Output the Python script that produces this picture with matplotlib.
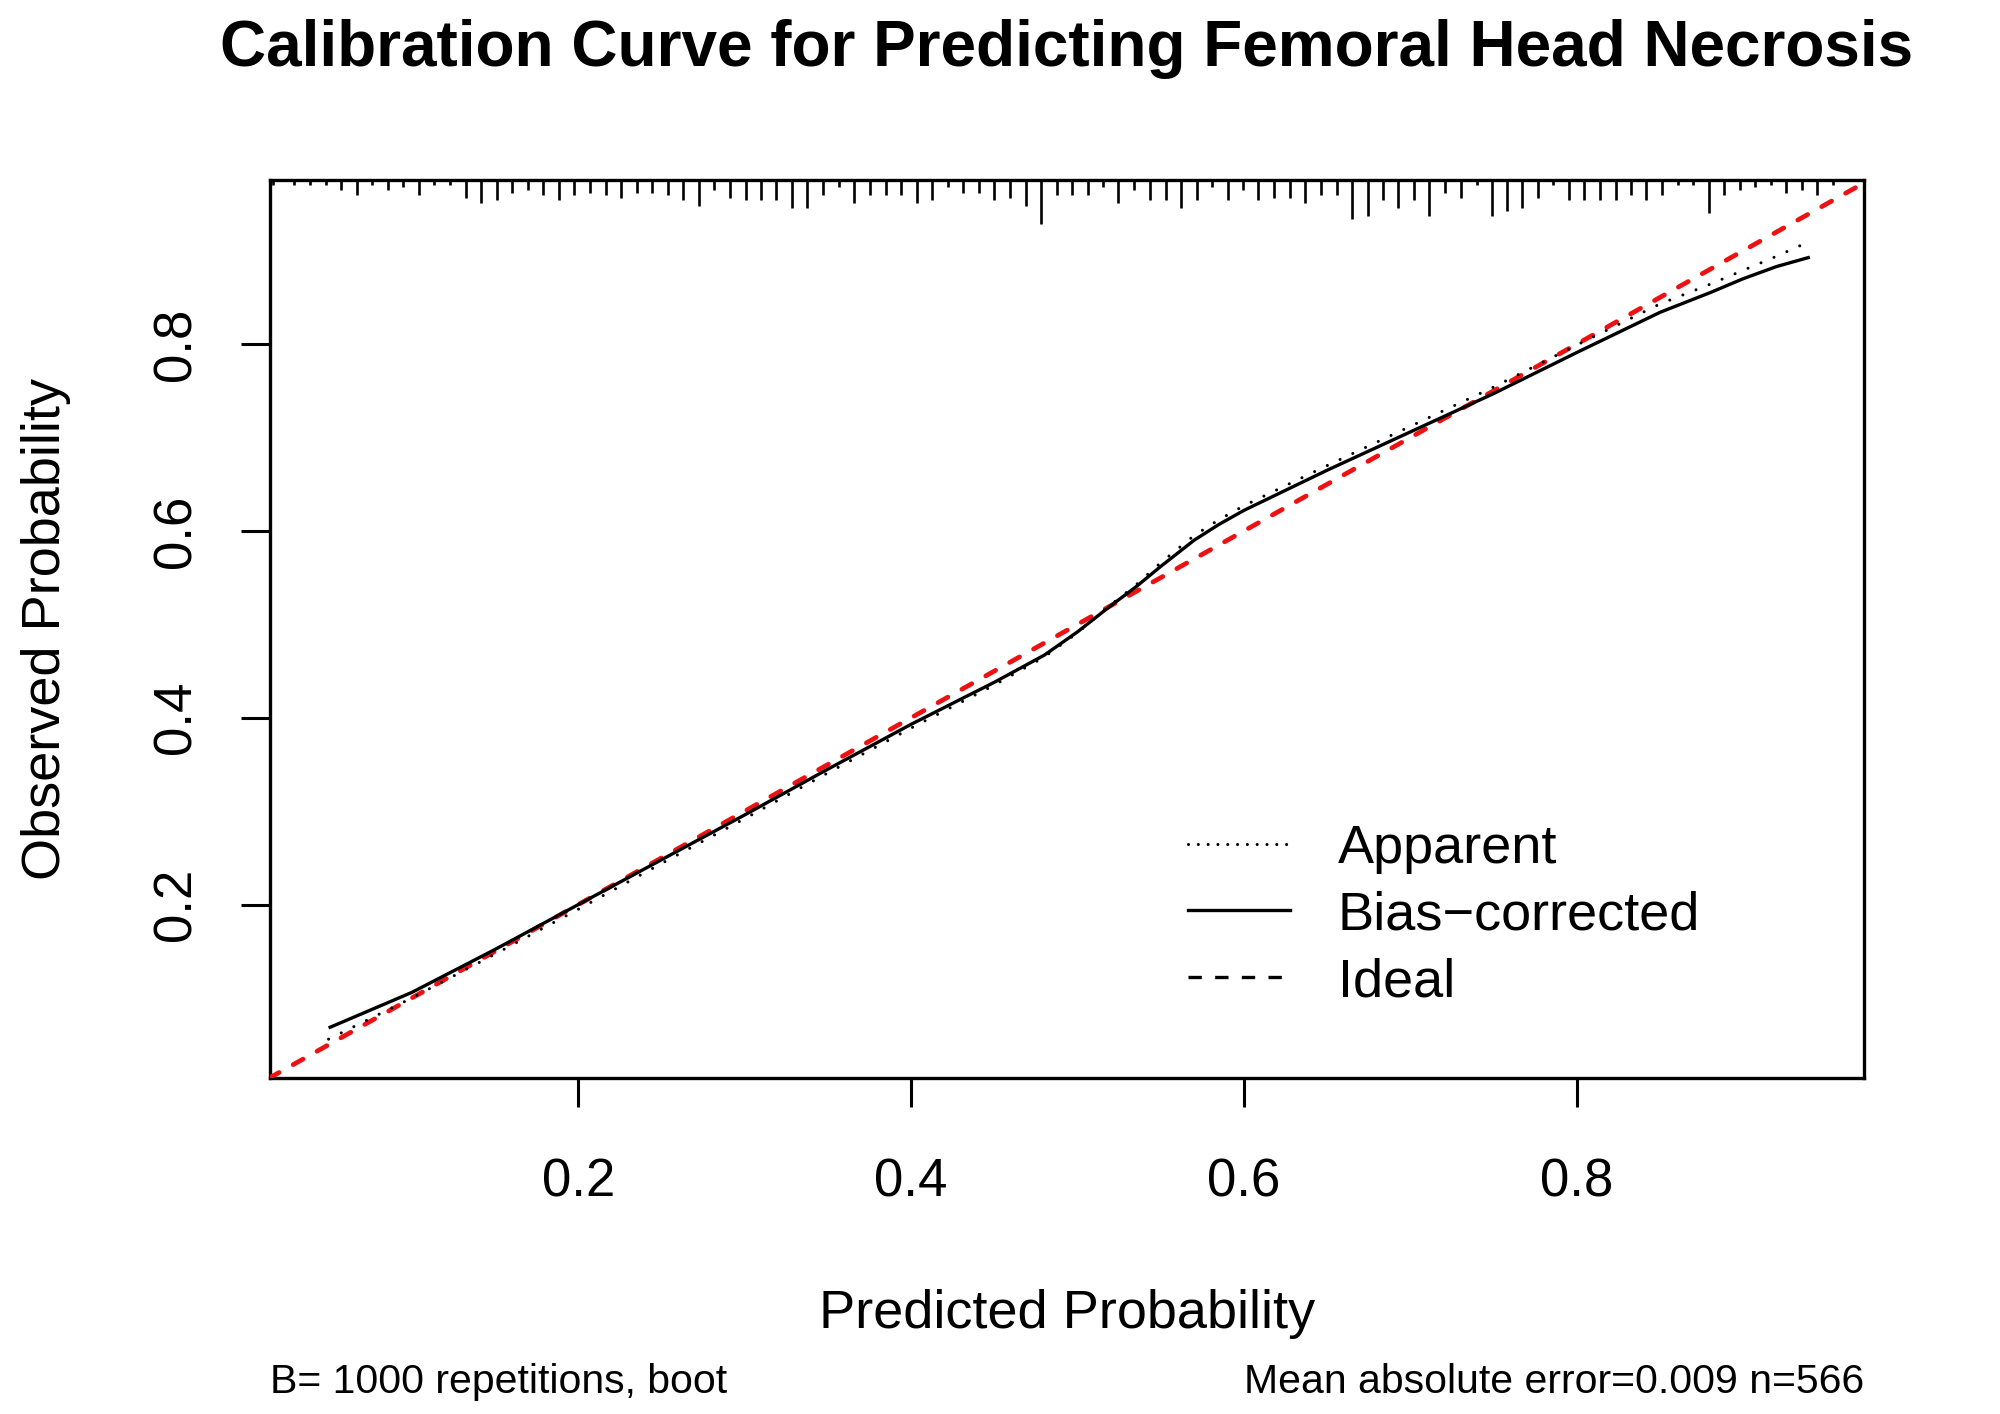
import matplotlib
matplotlib.use("Agg")
import matplotlib.pyplot as plt
from matplotlib.lines import Line2D

plt.rcParams['font.family'] = ['Liberation Sans', 'DejaVu Sans']

# ---------------- text ----------------
title = "Calibration Curve for Predicting Femoral Head Necrosis"
xlabel = "Predicted Probability"
ylabel = "Observed Probability"
sub_left = "B= 1000 repetitions, boot"
sub_right = "Mean absolute error=0.009 n=566"
legend_labels = ["Apparent", "Bias\u2212corrected", "Ideal"]

# ---------------- data ----------------
pred = [0.05, 0.10, 0.15, 0.20, 0.25, 0.30, 0.35, 0.40, 0.45, 0.48, 0.50, 0.52,
        0.535, 0.55, 0.57, 0.585, 0.60, 0.65, 0.70, 0.75, 0.80, 0.85, 0.88, 0.90,
        0.92, 0.94]
bias_corrected = [0.068, 0.106, 0.152, 0.200, 0.248, 0.296, 0.345, 0.393, 0.438,
                  0.467, 0.492, 0.520, 0.540, 0.562, 0.590, 0.607, 0.622, 0.665,
                  0.706, 0.747, 0.791, 0.834, 0.855, 0.870, 0.883, 0.893]
apparent = [0.056, 0.100, 0.147, 0.195, 0.244, 0.292, 0.341, 0.389, 0.435,
            0.465, 0.491, 0.521, 0.542, 0.566, 0.595, 0.612, 0.627, 0.670,
            0.712, 0.754, 0.799, 0.843, 0.864, 0.879, 0.894, 0.910]
ideal_x = [0.0, 1.0]
ideal_y = [0.0, 1.0]

x_range = (0.0148, 0.9725)
y_range = (0.0144, 0.9756)
tick_values = [0.2, 0.4, 0.6, 0.8]
tick_labels = ["0.2", "0.4", "0.6", "0.8"]

# distribution of predicted probabilities (rug at top): position and frequency
rug_x = [0.0168, 0.0294, 0.0388, 0.0483, 0.0574, 0.0669, 0.0763, 0.0855, 0.0949, 0.1044,
         0.1135, 0.1230, 0.1323, 0.1416, 0.1510, 0.1603, 0.1696, 0.1790, 0.1884, 0.1976,
         0.2071, 0.2165, 0.2257, 0.2351, 0.2445, 0.2538, 0.2631, 0.2725, 0.2818, 0.2911,
         0.3006, 0.3097, 0.3191, 0.3285, 0.3377, 0.3471, 0.3566, 0.3658, 0.3752, 0.3847,
         0.3939, 0.4033, 0.4124, 0.4219, 0.4314, 0.4408, 0.4500, 0.4594, 0.4688, 0.4780,
         0.4875, 0.4968, 0.5061, 0.5154, 0.5244, 0.5340, 0.5435, 0.5529, 0.5621, 0.5716,
         0.5809, 0.5902, 0.5995, 0.6086, 0.6182, 0.6277, 0.6366, 0.6463, 0.6557, 0.6647,
         0.6743, 0.6833, 0.6926, 0.7021, 0.7110, 0.7207, 0.7302, 0.7397, 0.7487, 0.7583,
         0.7673, 0.7769, 0.7858, 0.7952, 0.8044, 0.8138, 0.8232, 0.8324, 0.8418, 0.8511,
         0.8608, 0.8698, 0.8792, 0.8883, 0.8978, 0.9072, 0.9164, 0.9259, 0.9352, 0.9445,
         0.9539]
rug_count = [1, 1, 1, 1, 3, 5, 1, 3, 2, 5, 1, 1, 6, 8, 7, 4, 3, 5, 7, 5,
             4, 5, 6, 4, 4, 5, 7, 9, 3, 6, 7, 7, 7, 10, 10, 5, 2, 8, 5, 5,
             5, 8, 7, 2, 4, 4, 7, 6, 9, 16, 5, 5, 5, 2, 8, 3, 7, 7, 10, 7,
             2, 7, 3, 7, 6, 6, 8, 5, 5, 14, 13, 7, 10, 7, 13, 4, 6, 1, 13, 11,
             10, 6, 1, 7, 7, 7, 7, 5, 7, 5, 1, 1, 12, 5, 3, 2, 1, 4, 3, 5,
             1]

# ---------------- figure ----------------
W, H = 2000, 1414
fig = plt.figure(figsize=(W / 100, H / 100), dpi=100)
ax_left, ax_right, ax_top, ax_bottom = 270, 1864, 180, 1078
ax = fig.add_axes([ax_left / W, 1 - ax_bottom / H,
                   (ax_right - ax_left) / W, (ax_bottom - ax_top) / H])
ax_h_px = ax_bottom - ax_top

ax.set_xlim(*x_range)
ax.set_ylim(*y_range)

# ideal line (red dashed)
ax.plot(ideal_x, ideal_y, color='#ee1111', lw=3.4, dashes=(2.4, 3.4),
        dash_capstyle='round', zorder=3)
# bias corrected
ax.plot(pred, bias_corrected, color='black', lw=2.4, solid_capstyle='butt',
        solid_joinstyle='round', zorder=4)
# apparent
ax.plot(pred, apparent, color='black', lw=2.2, dashes=(0.01, 4.6),
        dash_capstyle='round', zorder=4)

# rug at top
rug_len = [(2.2 + 2.6 * c) / ax_h_px for c in rug_count]
ax.vlines(rug_x, [1 - l for l in rug_len], 1.0, transform=ax.get_xaxis_transform(),
          color='black', lw=1.9, capstyle='butt', zorder=5)

# frame and ticks
for s in ax.spines.values():
    s.set_linewidth(2.4)
ax.set_xticks(tick_values)
ax.set_xticklabels(tick_labels)
ax.set_yticks(tick_values)
ax.set_yticklabels(tick_labels)
ax.tick_params(axis='both', direction='out', length=21, width=2.2, labelsize=38)
ax.tick_params(axis='x', pad=36)
ax.tick_params(axis='y', pad=28, labelrotation=90)
for lab in ax.get_yticklabels():
    lab.set_va('center')

# legend (drawn manually to match layout)
leg_x0, leg_x1, leg_tx = 0.576, 0.640, 0.670
leg_y = [0.261, 0.187, 0.113]
styles = [dict(lw=2.2, dashes=(0.01, 3.2), dash_capstyle='round'),
          dict(lw=2.4),
          dict(lw=2.4, dashes=(4, 4))]
for yy, lab, st in zip(leg_y, legend_labels, styles):
    ax.add_line(Line2D([leg_x0, leg_x1], [yy, yy], transform=ax.transAxes,
                       color='black', **st))
    ax.text(leg_tx, yy, lab, transform=ax.transAxes, fontsize=39,
            va='center_baseline', ha='left')

# texts
cx = (ax_left + ax_right) / 2 / W
fig.text(cx, 1 - 66 / H, title, fontsize=46, fontweight='bold',
         ha='center', va='baseline')
fig.text(cx, 1 - 1328 / H, xlabel, fontsize=39, ha='center', va='baseline')
fig.text(46 / W, 1 - (ax_top + ax_bottom) / 2 / H, ylabel, fontsize=39,
         rotation=90, ha='center', va='center')
fig.text(ax_left / W, 1 - 1393 / H, sub_left, fontsize=29.5, ha='left', va='baseline')
fig.text(ax_right / W, 1 - 1393 / H, sub_right, fontsize=29.5, ha='right', va='baseline')

fig.savefig("out.png", dpi=100, facecolor='white')
